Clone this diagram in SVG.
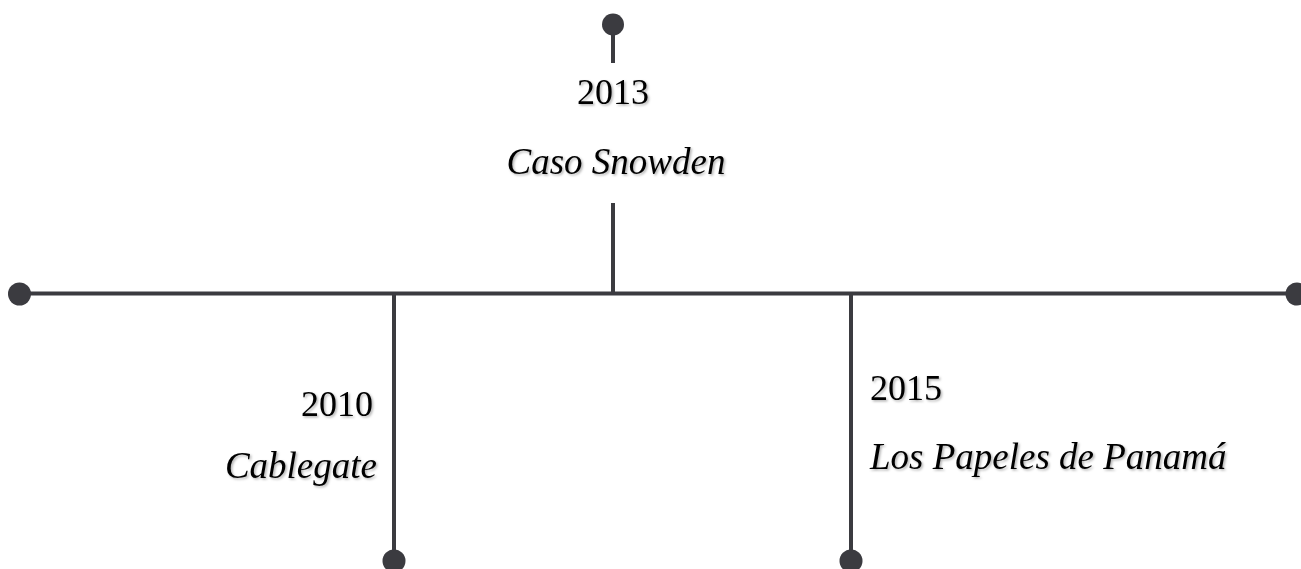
<svg xmlns="http://www.w3.org/2000/svg" width="1301" height="569" viewBox="0 0 1301 569">
  <defs>
    <filter id="sh" x="-10%" y="-30%" width="120%" height="160%">
      <feDropShadow dx="1.5" dy="1.5" stdDeviation="1" flood-color="#000" flood-opacity="0.3"/>
    </filter>
  </defs>
  <style>
    .ln { stroke: #3b3b40; stroke-width: 4; fill: none; }
    .dot { fill: #3b3b40; }
    .yr { font-family: "Liberation Serif", "Times New Roman", serif; font-size: 36px; fill: #000; filter: url(#sh); }
    .ev { font-family: "Liberation Serif", "Times New Roman", serif; font-size: 37px; font-style: italic; fill: #000; filter: url(#sh); }
  </style>
  <rect width="1301" height="569" fill="#fff"/>
  <g id="connectors">
    <line class="ln" x1="19" y1="293.5" x2="1297" y2="293.5"/>
    <line class="ln" x1="613" y1="25" x2="613" y2="63"/>
    <line class="ln" x1="613" y1="203" x2="613" y2="293.5"/>
    <line class="ln" x1="394" y1="293.5" x2="394" y2="560"/>
    <line class="ln" x1="851" y1="293.5" x2="851" y2="560"/>
  </g>
  <g id="timeline-ends">
    <circle class="dot" cx="19.5" cy="294" r="11.5"/>
    <circle class="dot" cx="1297" cy="294" r="11.5"/>
  </g>
  <g id="event-2013">
    <circle class="dot" cx="613" cy="24.5" r="11"/>
    <text class="yr" x="613" y="104" text-anchor="middle">2013</text>
    <text class="ev" x="616" y="174" text-anchor="middle">Caso Snowden</text>
  </g>
  <g id="event-2010">
    <circle class="dot" cx="394" cy="561" r="11.5"/>
    <text class="yr" x="373" y="416" text-anchor="end">2010</text>
    <text class="ev" x="377" y="478" text-anchor="end">Cablegate</text>
  </g>
  <g id="event-2015">
    <circle class="dot" cx="851" cy="561" r="11.5"/>
    <text class="yr" x="870" y="400">2015</text>
    <text class="ev" x="870" y="469">Los Papeles de Panamá</text>
  </g>
</svg>
